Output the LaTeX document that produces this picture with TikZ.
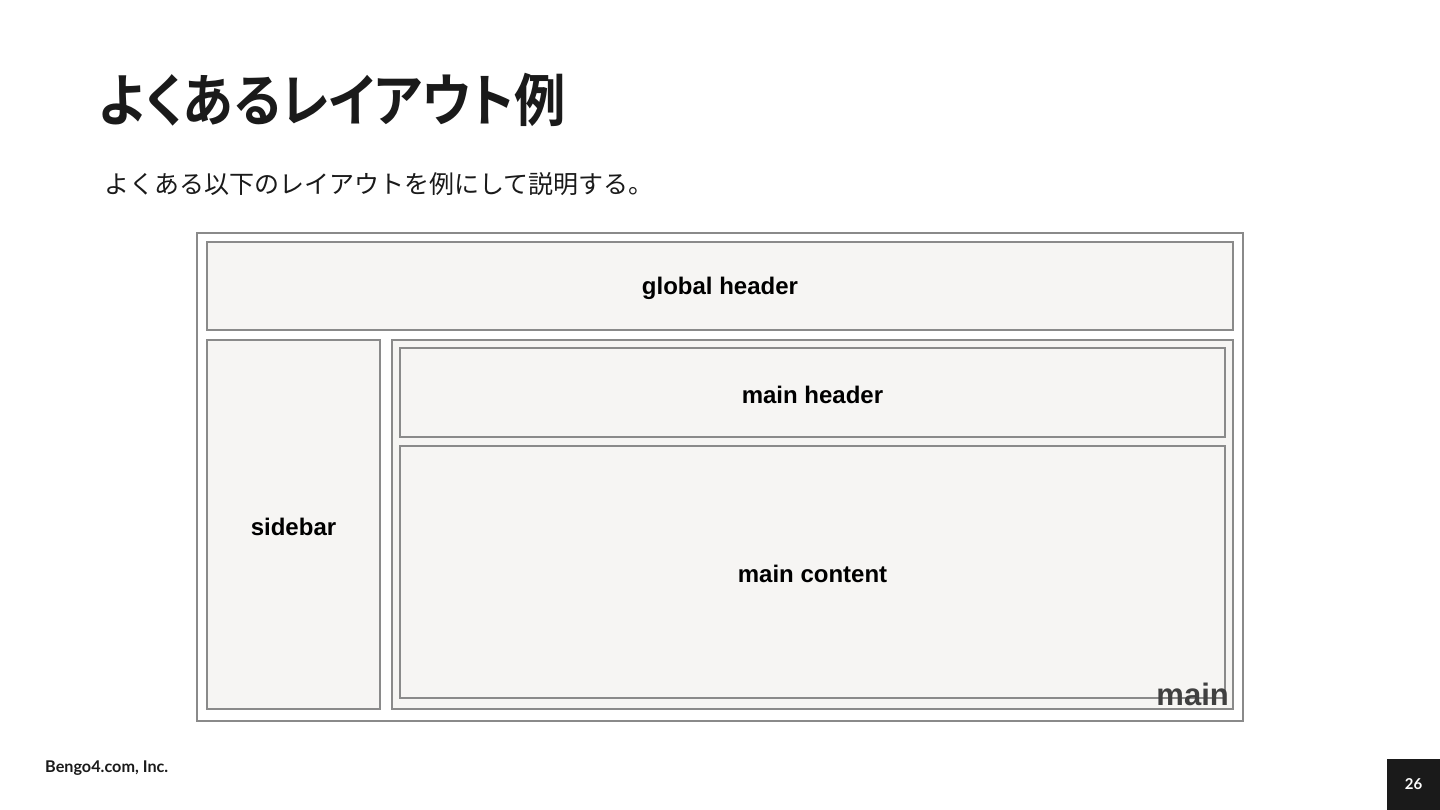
\documentclass[tikz,border=0pt]{standalone}
\usepackage{fontspec}
\setmainfont{Liberation Sans}
\newfontfamily\jpbold{Noto Sans CJK JP Bold}[RawFeature=+palt]
\newfontfamily\jp{Noto Sans CJK JP}
\newfontfamily\foot{Lato}
\definecolor{boxfill}{HTML}{F6F5F3}
\definecolor{boxline}{HTML}{8A8A8A}
\definecolor{titlecol}{HTML}{1A1A1A}
\tikzset{
  area/.style={draw=boxline, line width=1.6pt, fill=boxfill, inner sep=0pt, outer sep=0pt, anchor=north west},
  lbl/.style={font=\bfseries\fontsize{24}{28}\selectfont, text=black, inner sep=0pt, yshift=-2pt},
}
\begin{document}
\begin{tikzpicture}[x=1pt,y=-1pt]
\useasboundingbox[fill=white] (0,0) rectangle (1440,810);
% title
\node[anchor=west, inner sep=0pt, text=titlecol, font=\jpbold\fontsize{57}{60}\selectfont] (title) at (99,100) {\scalebox{0.9}[1]{よくあるレイアウト例}};
\node[anchor=west, inner sep=0pt, text=titlecol, font=\jp\fontsize{25}{30}\selectfont] (sub) at (104,184) {よくある以下のレイアウトを例にして説明する。};
% outer frame
\node[draw=boxline, line width=1.6pt, fill=white, inner sep=0pt, outer sep=0pt, anchor=north west, minimum width=1046pt, minimum height=488pt] (outer) at (197,233) {};
\node[area, minimum width=1026pt, minimum height=88pt] (gh) at (207,242) {};
\node[area, minimum width=173pt, minimum height=369pt] (sb) at (207,340) {};
\node[area, minimum width=841pt, minimum height=369pt] (main) at (392,340) {};
\node[area, minimum width=825pt, minimum height=89pt] (mh) at (400,348) {};
\node[area, minimum width=825pt, minimum height=252pt] (mc) at (400,446) {};
\node[lbl] (ghl) at (gh.center) {global header};
\node[lbl] (sbl) at (sb.center) {sidebar};
\node[lbl] (mhl) at (mh.center) {main header};
\node[lbl] (mcl) at (mc.center) {main content};
\node[anchor=base east, inner sep=0pt, text=black!75, font=\bfseries\fontsize{31}{34}\selectfont] (mainl) at (1229,705) {main};
% footer
\node[anchor=west, inner sep=0pt, text=titlecol, font=\foot\bfseries\fontsize{16.2}{19}\selectfont] (corp) at (45,768) {Bengo4.com, Inc.};
\node[fill=titlecol, inner sep=0pt, outer sep=0pt, anchor=north west, minimum width=53pt, minimum height=51pt] (pg) at (1387,759) {};
\node[text=white, font=\foot\bfseries\fontsize{15}{18}\selectfont, inner sep=0pt] (pgn) at (pg.center) {26};
\end{tikzpicture}
\end{document}
